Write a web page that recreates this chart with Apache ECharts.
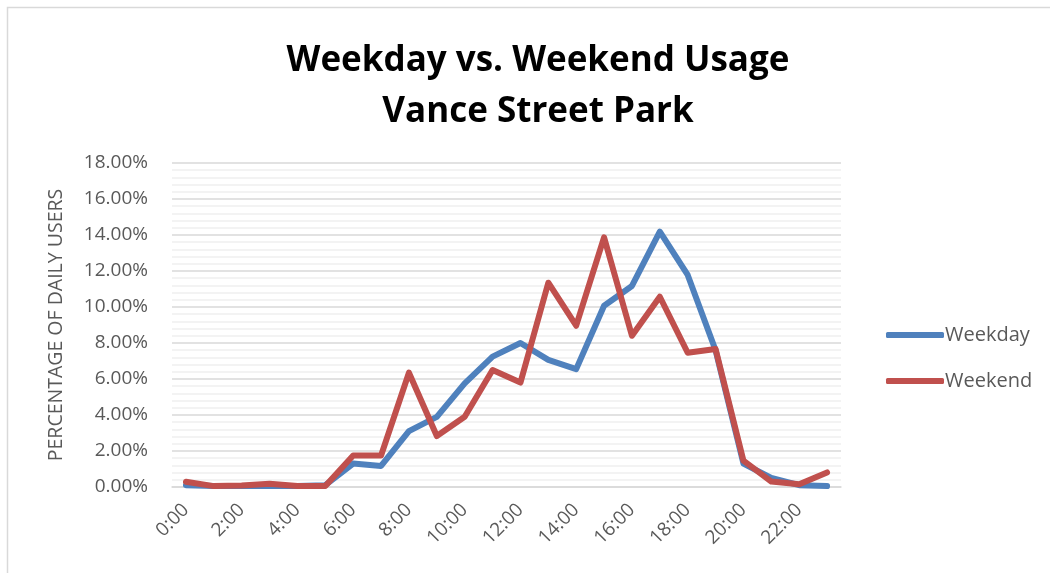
<!DOCTYPE html>
<html>
<head>
<meta charset="utf-8">
<script src="https://cdn.jsdelivr.net/npm/echarts@6/dist/echarts.min.js"></script>
<style>
    html, body { margin: 0; padding: 0; background: #fff; }
    #main { width: 1050px; height: 573px; }
</style>
</head>
<body>
<div id="main"></div>
<script>
// hours of the day
var hours = ['0:00', '1:00', '2:00', '3:00', '4:00', '5:00', '6:00', '7:00', '8:00', '9:00', '10:00', '11:00',
    '12:00', '13:00', '14:00', '15:00', '16:00', '17:00', '18:00', '19:00', '20:00', '21:00', '22:00', '23:00'];
// percentage of daily users
var weekday = [0.10, 0.05, 0.05, 0.05, 0.05, 0.10, 1.30, 1.17, 3.10, 3.90, 5.76, 7.24,
    8.00, 7.06, 6.55, 10.07, 11.17, 14.19, 11.78, 7.60, 1.30, 0.50, 0.10, 0.05];
var weekend = [0.29, 0.05, 0.08, 0.18, 0.05, 0.05, 1.75, 1.75, 6.35, 2.83, 3.90, 6.50,
    5.80, 11.35, 8.96, 13.87, 8.40, 10.57, 7.46, 7.67, 1.46, 0.30, 0.15, 0.81];
var yTicks = { min: 0, max: 18, step: 2 };

var font = 'Open Sans';
var gray = '#595959';

var myChart = echarts.init(document.getElementById('main'));
var option = {
    backgroundColor: '#fff',
    color: ['#4F81BD', '#C0504D'],
    textStyle: { fontFamily: font },
    title: {
        text: 'Weekday vs. Weekend Usage\nVance Street Park',
        left: 533,
        top: 31,
        textAlign: 'center',
        textStyle: {
            fontFamily: font,
            fontWeight: 'bold',
            fontSize: 35,
            lineHeight: 51,
            color: '#000'
        }
    },
    legend: {
        orient: 'vertical',
        left: 881,
        top: 320,
        icon: 'roundRect',
        itemWidth: 58,
        itemHeight: 6,
        itemGap: 26,
        textStyle: { fontFamily: font, fontSize: 20, color: gray, padding: [0, 0, 0, -4] },
        data: ['Weekday', 'Weekend']
    },
    grid: {
        left: 172,
        right: 209,
        top: 163,
        bottom: 86
    },
    xAxis: {
        type: 'category',
        data: hours,
        boundaryGap: true,
        axisTick: { show: false },
        axisLine: { lineStyle: { color: '#d9d9d9', width: 1.5 } },
        axisLabel: {
            interval: 1,
            rotate: 45,
            margin: 20,
            fontFamily: font,
            fontSize: 19,
            color: gray
        }
    },
    yAxis: {
        type: 'value',
        min: yTicks.min,
        max: yTicks.max,
        interval: yTicks.step,
        name: 'PERCENTAGE OF DAILY USERS',
        nameLocation: 'middle',
        nameRotate: 90,
        nameGap: 106,
        nameTextStyle: { fontFamily: font, fontSize: 19.5, color: gray },
        axisLine: { show: false },
        axisTick: { show: false },
        axisLabel: {
            margin: 24,
            fontFamily: font,
            fontSize: 19,
            color: gray,
            formatter: function (v) { return v.toFixed(2) + '%'; }
        },
        splitLine: { lineStyle: { color: '#d9d9d9', width: 1.5 } },
        minorTick: { show: false, splitNumber: 5 },
        minorSplitLine: { show: true, lineStyle: { color: '#efefef', width: 1.5 } }
    },
    series: [
        {
            name: 'Weekday',
            type: 'line',
            data: weekday,
            symbol: 'none',
            lineStyle: { width: 6, cap: 'round', join: 'round' }
        },
        {
            name: 'Weekend',
            type: 'line',
            data: weekend,
            symbol: 'none',
            lineStyle: { width: 6, cap: 'round', join: 'round' }
        }
    ],
    graphic: [
        {
            type: 'rect',
            silent: true,
            shape: { x: 7.5, y: 7.5, width: 1100, height: 700 },
            style: { fill: 'none', stroke: '#d9d9d9', lineWidth: 1.5 }
        }
    ]
};
myChart.setOption(option);
</script>
</body>
</html>
